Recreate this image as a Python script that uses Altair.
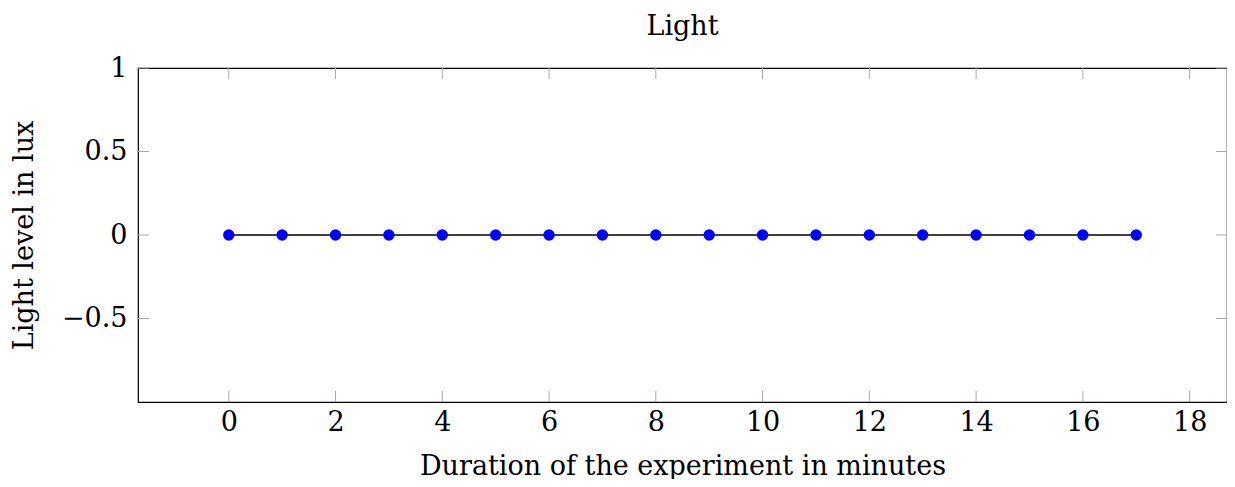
import altair as alt
import pandas as pd

minutes = [0, 1, 2, 3, 4, 5, 6, 7, 8, 9, 10, 11, 12, 13, 14, 15, 16, 17]
light = [0, 0, 0, 0, 0, 0, 0, 0, 0, 0, 0, 0, 0, 0, 0, 0, 0, 0]
x_ticks = [0, 2, 4, 6, 8, 10, 12, 14, 16, 18]
y_ticks = [-0.5, 0, 0.5, 1]

W, H = 1089, 334
FONT = "DejaVu Serif"
LBL = 27
TTL = 27

df = pd.DataFrame({"minutes": minutes, "light": light})
xs = alt.Scale(domain=[-1.7, 18.7], nice=False, zero=False)
ys = alt.Scale(domain=[-1, 1], nice=False, zero=False)

xaxis = alt.Axis(values=x_ticks, ticks=False, domain=False, grid=False, format="~g",
                 labelFont=FONT, labelFontSize=LBL, labelColor="black", labelPadding=7,
                 title="Duration of the experiment in minutes", titleFont=FONT,
                 titleFontSize=TTL, titleFontWeight="normal", titleColor="black",
                 titlePadding=18, labelFlush=False)
yaxis = alt.Axis(values=y_ticks, ticks=False, domain=False, grid=False, format="~g",
                 labelFont=FONT, labelFontSize=LBL, labelColor="black", labelPadding=11,
                 title="Light level in lux", titleFont=FONT,
                 titleFontSize=TTL, titleFontWeight="normal", titleColor="black",
                 titleX=-100, labelFlush=False)

base = alt.Chart(df).encode(
    x=alt.X("minutes:Q", scale=xs, axis=xaxis),
    y=alt.Y("light:Q", scale=ys, axis=yaxis),
)
line = base.mark_line(color="black", strokeWidth=1.3)
pts = base.mark_circle(color="#0000ff", size=130, opacity=1)

xt = pd.DataFrame({"t": x_ticks})
yt = pd.DataFrame({"t": y_ticks})
TC = "#a8a8a8"
xb = alt.Chart(xt).mark_rule(color=TC, strokeWidth=1).encode(
    x=alt.X("t:Q", scale=xs, axis=xaxis), y=alt.value(H), y2=alt.value(H - 11))
xtop = alt.Chart(xt).mark_rule(color=TC, strokeWidth=1).encode(
    x=alt.X("t:Q", scale=xs, axis=xaxis), y=alt.value(0), y2=alt.value(11))
yl = alt.Chart(yt).mark_rule(color=TC, strokeWidth=1).encode(
    y=alt.Y("t:Q", scale=ys, axis=yaxis), x=alt.value(0), x2=alt.value(11))
yr = alt.Chart(yt).mark_rule(color=TC, strokeWidth=1).encode(
    y=alt.Y("t:Q", scale=ys, axis=yaxis), x=alt.value(W), x2=alt.value(W - 11))

chart = alt.layer(xb, xtop, yl, yr, line, pts).properties(
    width=W, height=H,
    title=alt.TitleParams("Light", font=FONT, fontSize=TTL, fontWeight="normal",
                          color="black", offset=13),
    autosize=alt.AutoSizeParams(type="none"),
    padding={"left": 130, "top": 60, "right": 0, "bottom": 77},
).configure_view(stroke="black", strokeWidth=1.2)

chart.save("out.html", embed_options={"renderer": "svg", "actions": False})
